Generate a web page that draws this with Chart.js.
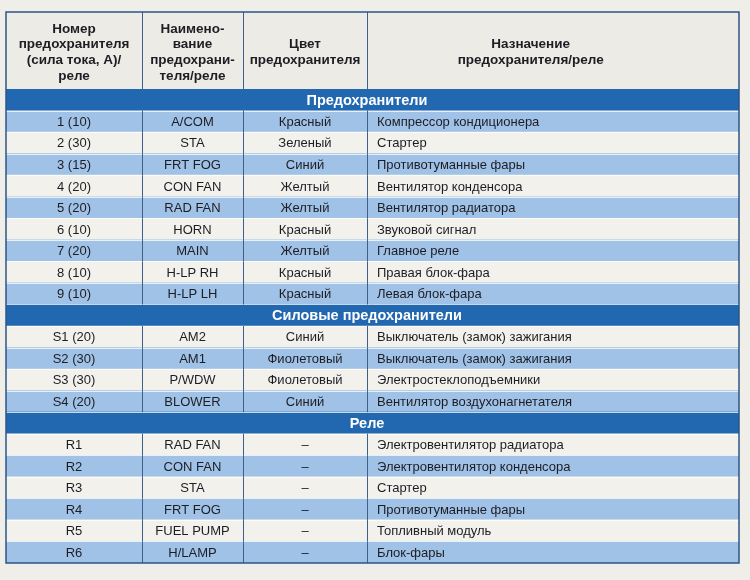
<!DOCTYPE html>
<html lang="ru">
<head>
    <meta charset="UTF-8">
    <title>Предохранители и реле</title>
    <script src="https://cdn.jsdelivr.net/npm/chart.js"></script>
    <style>
        body {
            margin: 0;
            background-color: #efeee9;
        }
        canvas {
            display: block;
        }
    </style>
</head>
<body>
    <canvas id="fuseTable" width="750" height="580"></canvas>

    <script>
        // column headers (each line separately)
        const colHeaders = [
            ['Номер', 'предохранителя', '(сила тока, А)/', 'реле'],
            ['Наимено-', 'вание', 'предохрани-', 'теля/реле'],
            ['Цвет', 'предохранителя'],
            ['Назначение', 'предохранителя/реле']
        ];
        const colWidths = [136, 101, 124, 372];

        const sectionTitles = ['Предохранители', 'Силовые предохранители', 'Реле'];
        const sectionSizes = [9, 4, 6];

        const numbers = ['1 (10)', '2 (30)', '3 (15)', '4 (20)', '5 (20)', '6 (10)', '7 (20)', '8 (10)', '9 (10)',
            'S1 (20)', 'S2 (30)', 'S3 (30)', 'S4 (20)',
            'R1', 'R2', 'R3', 'R4', 'R5', 'R6'];
        const names = ['A/COM', 'STA', 'FRT FOG', 'CON FAN', 'RAD FAN', 'HORN', 'MAIN', 'H-LP RH', 'H-LP LH',
            'AM2', 'AM1', 'P/WDW', 'BLOWER',
            'RAD FAN', 'CON FAN', 'STA', 'FRT FOG', 'FUEL PUMP', 'H/LAMP'];
        const colours = ['Красный', 'Зеленый', 'Синий', 'Желтый', 'Желтый', 'Красный', 'Желтый', 'Красный', 'Красный',
            'Синий', 'Фиолетовый', 'Фиолетовый', 'Синий',
            '–', '–', '–', '–', '–', '–'];
        const purposes = ['Компрессор кондиционера', 'Стартер', 'Противотуманные фары', 'Вентилятор конденсора',
            'Вентилятор радиатора', 'Звуковой сигнал', 'Главное реле', 'Правая блок-фара', 'Левая блок-фара',
            'Выключатель (замок) зажигания', 'Выключатель (замок) зажигания', 'Электростеклоподъемники',
            'Вентилятор воздухонагнетателя',
            'Электровентилятор радиатора', 'Электровентилятор конденсора', 'Стартер', 'Противотуманные фары',
            'Топливный модуль', 'Блок-фары'];

        const DARK = '#2268b0';
        const LIGHT = '#a0c2e7';
        const PAPER = '#f3f1ec';
        const LINE = '#3e5f88';
        const headerHeight = 77;
        const font = "'Liberation Sans', Arial, sans-serif";

        // build rows: section headers + data rows
        const rows = [];
        let k = 0;
        sectionTitles.forEach((title, s) => {
            rows.push({ section: true, title: title });
            for (let i = 0; i < sectionSizes[s]; i++) {
                rows.push({ section: false, idx: k, cells: [numbers[k], names[k], colours[k], purposes[k]] });
                k++;
            }
        });

        const total = colWidths.reduce((a, b) => a + b, 0);
        const edges = [0];
        colWidths.forEach(w => edges.push(edges[edges.length - 1] + w));

        const rowColors = rows.map(r => r.section ? DARK : (r.idx % 2 === 0 ? LIGHT : PAPER));

        const tablePlugin = {
            id: 'tablePlugin',
            beforeDatasetsDraw(chart) {
                const ctx = chart.ctx;
                const x = chart.scales.x;
                const top = chart.chartArea.top;
                ctx.save();
                ctx.fillStyle = '#ecebe6';
                ctx.fillRect(x.getPixelForValue(0), top - headerHeight, x.getPixelForValue(total) - x.getPixelForValue(0), headerHeight);
                ctx.restore();
            },
            afterDatasetsDraw(chart) {
                const ctx = chart.ctx;
                const x = chart.scales.x;
                const y = chart.scales.y;
                const area = chart.chartArea;
                const band = (area.bottom - area.top) / rows.length;
                const tableTop = area.top - headerHeight;
                ctx.save();

                // thin light row separators
                ctx.strokeStyle = 'rgba(255,255,255,0.75)';
                ctx.lineWidth = 1;
                for (let i = 1; i < rows.length; i++) {
                    const yy = Math.round(y.getPixelForValue(i) - band / 2) + 0.5;
                    ctx.beginPath();
                    ctx.moveTo(x.getPixelForValue(0), yy);
                    ctx.lineTo(x.getPixelForValue(total), yy);
                    ctx.stroke();
                }

                // vertical column lines
                ctx.strokeStyle = LINE;
                ctx.lineWidth = 1;
                const vline = (y0, y1) => {
                    for (let c = 1; c < edges.length - 1; c++) {
                        const xx = Math.round(x.getPixelForValue(edges[c])) + 0.5;
                        ctx.beginPath();
                        ctx.moveTo(xx, y0);
                        ctx.lineTo(xx, y1);
                        ctx.stroke();
                    }
                };
                vline(tableTop, area.top);
                rows.forEach((r, i) => {
                    if (!r.section) {
                        const yc = y.getPixelForValue(i);
                        vline(yc - band / 2, yc + band / 2);
                    }
                });

                // header text
                ctx.fillStyle = '#1d1d24';
                ctx.font = 'bold 13.5px ' + font;
                ctx.textAlign = 'center';
                ctx.textBaseline = 'middle';
                const lineH = 15.7;
                colHeaders.forEach((lines, c) => {
                    const cx = c === 3
                        ? x.getPixelForValue(edges[c] + colWidths[c] * 0.44)
                        : x.getPixelForValue(edges[c] + colWidths[c] / 2);
                    const mid = tableTop + headerHeight / 2 + 2;
                    lines.forEach((t, j) => {
                        ctx.fillText(t, cx, mid + (j - (lines.length - 1) / 2) * lineH);
                    });
                });

                // body text
                rows.forEach((r, i) => {
                    const yc = y.getPixelForValue(i) + 1;
                    if (r.section) {
                        ctx.fillStyle = '#ffffff';
                        ctx.font = 'bold 14.5px ' + font;
                        ctx.textAlign = 'center';
                        ctx.fillText(r.title, x.getPixelForValue(edges[3]), yc);
                    } else {
                        ctx.fillStyle = '#1d1d24';
                        ctx.font = '13px ' + font;
                        r.cells.forEach((t, c) => {
                            if (c === 3) {
                                ctx.textAlign = 'left';
                                ctx.fillText(t, x.getPixelForValue(edges[c]) + 10, yc);
                            } else {
                                ctx.textAlign = 'center';
                                ctx.fillText(t, x.getPixelForValue(edges[c] + colWidths[c] / 2), yc);
                            }
                        });
                    }
                });

                // outer border
                ctx.strokeStyle = '#2c5585';
                ctx.lineWidth = 1.5;
                const x0 = x.getPixelForValue(0), x1 = x.getPixelForValue(total);
                ctx.strokeRect(x0, tableTop, x1 - x0, area.bottom - tableTop);
                ctx.restore();
            }
        };

        new Chart(document.getElementById('fuseTable'), {
            type: 'bar',
            data: {
                labels: rows.map((r, i) => r.section ? r.title : r.cells[0]),
                datasets: [{
                    data: rows.map(() => [0, total]),
                    backgroundColor: rowColors,
                    borderWidth: 0,
                    barPercentage: 1,
                    categoryPercentage: 1
                }]
            },
            options: {
                indexAxis: 'y',
                responsive: false,
                animation: false,
                layout: { padding: { top: 89, left: 6, right: 11, bottom: 17 } },
                scales: {
                    x: { type: 'linear', min: 0, max: total, display: false },
                    y: { display: false, grid: { display: false } }
                },
                plugins: {
                    legend: { display: false },
                    tooltip: { enabled: false }
                }
            },
            plugins: [tablePlugin]
        });
    </script>
</body>
</html>
